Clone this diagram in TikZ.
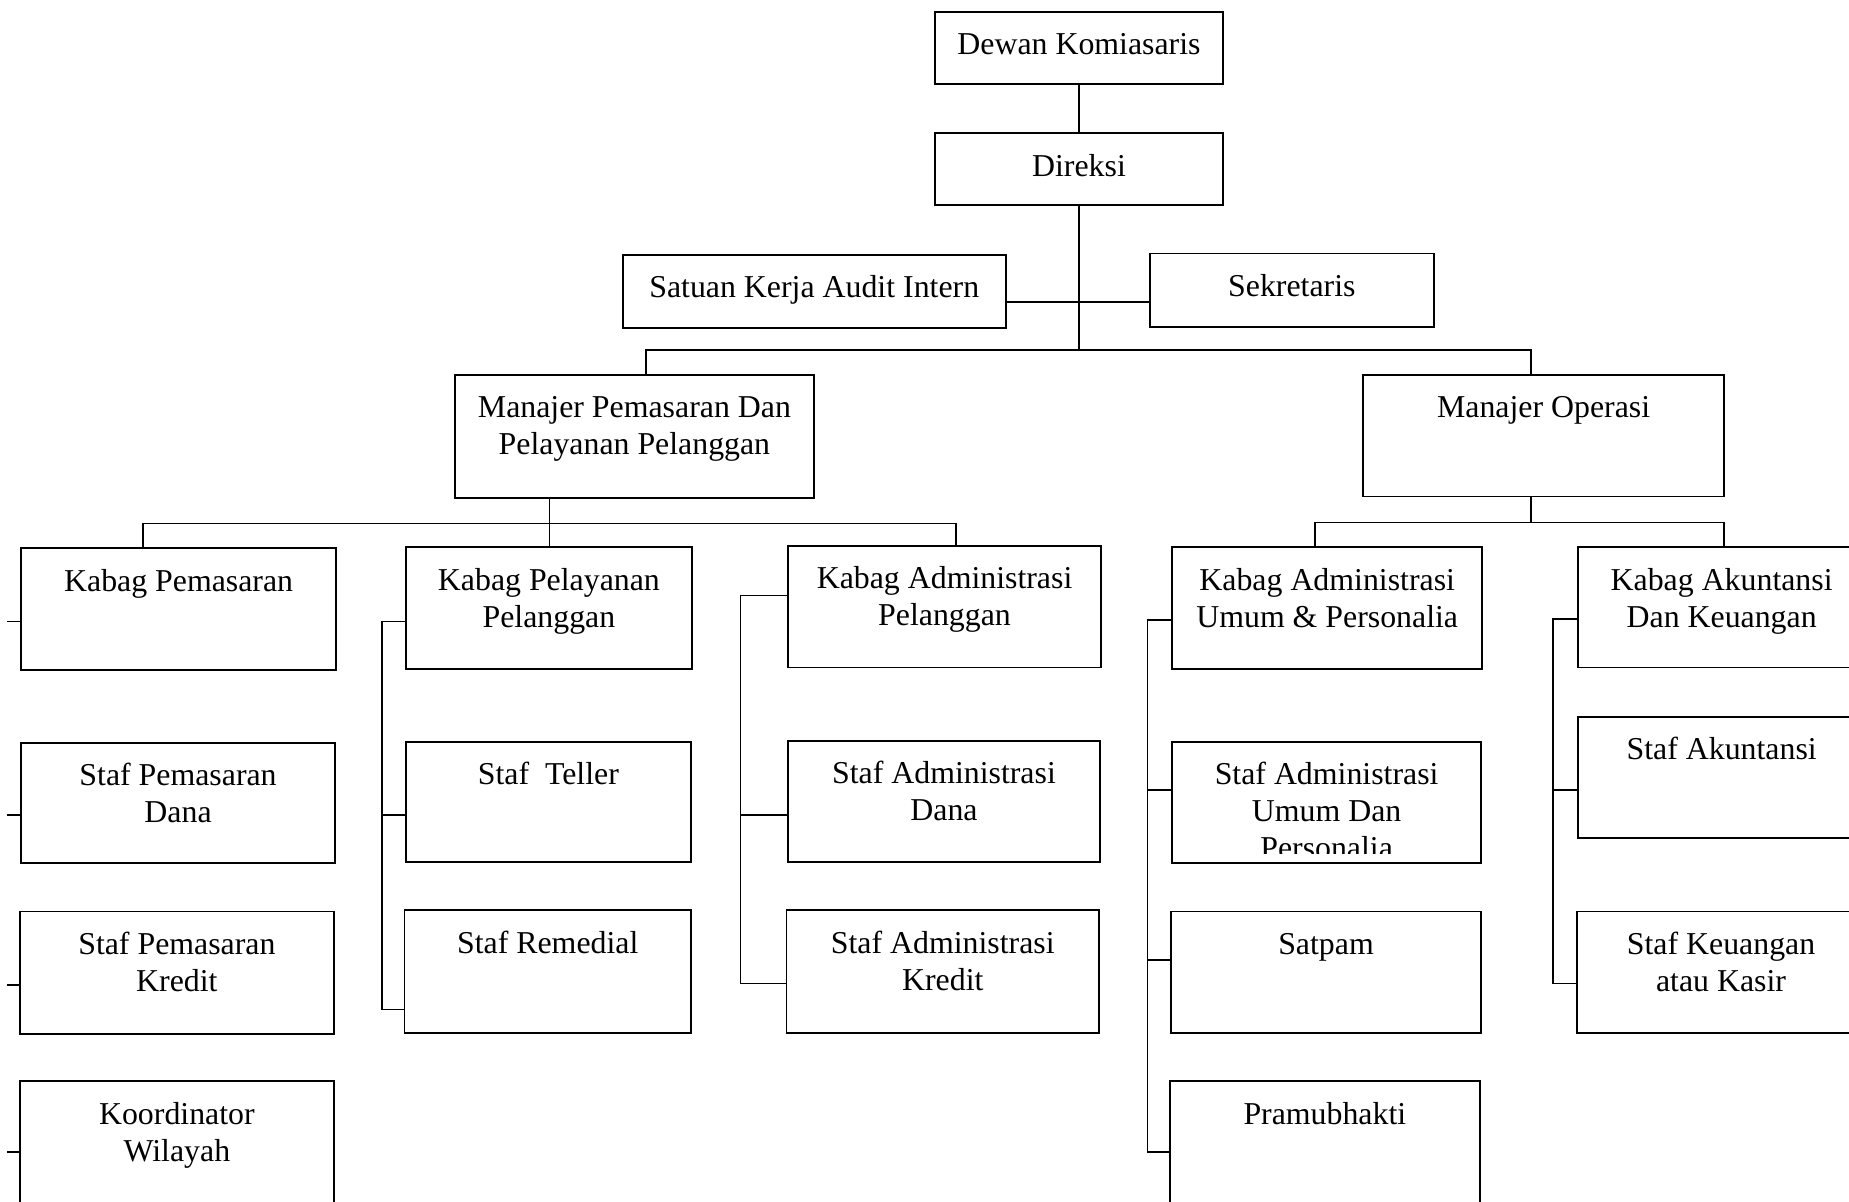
\documentclass[tikz,border=0pt]{standalone}
\usepackage{fontspec}
\setmainfont{Liberation Serif}
\usetikzlibrary{calc}
\tikzset{
  orgbox/.style={draw, line width=0.8pt, inner sep=0pt, outer sep=0pt, rectangle},
  orgtxt/.style={inner sep=0pt, align=center, anchor=north, font=\fontsize{13.5}{15.7}\selectfont},
  link/.style={line width=0.75pt},
}
\newcommand\OBox[6]{%
  \node[orgbox, anchor=north west, minimum width={(#4-#2)*0.5pt}, minimum height={(#5-#3)*0.5pt}] (#1) at (#2,#3) {};
  \node[orgtxt] (#1t) at ($(#1.north)+(0,14)$) {\strut #6};}
\begin{document}
\begin{tikzpicture}[x=0.5pt,y=-0.5pt]
\useasboundingbox (0,0) rectangle (1568,1019);
\fill[white] (0,0) rectangle (1568,1019);
\clip (0,0) rectangle (1568,1019);
% top
\OBox{dk}{793}{10}{1037}{71}{Dewan Komiasaris}
\OBox{dir}{793}{113}{1037}{174}{Direksi}
\OBox{ska}{528}{216}{853}{278}{Satuan Kerja Audit Intern}
\OBox{sek}{975}{215}{1216}{277}{Sekretaris}
\OBox{mp}{386}{318}{690}{422}{Manajer Pemasaran Dan\\Pelayanan Pelanggan}
\OBox{mo}{1156}{318}{1462}{421}{Manajer Operasi}
% kabag row
\OBox{kp}{18}{465}{285}{568}{Kabag Pemasaran}
\OBox{kpl}{344}{464}{587}{567}{Kabag Pelayanan\\Pelanggan}
\OBox{kap}{668}{463}{934}{566}{Kabag Administrasi\\Pelanggan}
\OBox{kau}{994}{464}{1257}{567}{Kabag Administrasi\\Umum \& Personalia}
\OBox{kak}{1338}{464}{1582}{566}{Kabag Akuntansi\\Dan Keuangan}
% column 1
\OBox{spd}{18}{630}{284}{732}{Staf Pemasaran\\Dana}
\OBox{spk}{17}{773}{283}{877}{Staf Pemasaran\\Kredit}
\OBox{kw}{17}{917}{283}{1040}{Koordinator\\Wilayah}
% column 2
\OBox{st}{344}{629}{586}{731}{Staf\ \ Teller}
\OBox{sr}{343}{772}{586}{876}{Staf Remedial}
% column 3
\OBox{sad}{668}{628}{933}{731}{Staf Administrasi\\Dana}
\OBox{sak}{667}{772}{932}{876}{Staf Administrasi\\Kredit}
% column 4
\node[orgbox, anchor=north west, minimum width={262*0.5pt}, minimum height={103*0.5pt}] (sau) at (994,629) {};
\begin{scope}
\clip (994,629) rectangle (1256,724);
\node[orgtxt] (saut) at ($(sau.north)+(0,14)$) {\strut Staf Administrasi\\Umum Dan\\Personalia};
\end{scope}
\OBox{sat}{993}{773}{1256}{876}{Satpam}
\OBox{pra}{992}{917}{1255}{1040}{Pramubhakti}
% column 5
\OBox{sakt}{1338}{608}{1582}{711}{Staf Akuntansi}
\OBox{sku}{1337}{773}{1582}{876}{Staf Keuangan\\atau Kasir}

% connectors: top
\coordinate (j1) at (915,256);
\coordinate (b1) at (915,297);
\coordinate (mpd) at (548,297);
\coordinate (mod) at (1298,297);
\draw[link] (dk.south) -- (dir.south |- dk.south) -- (dir.north);
\draw[link] (dir.south) -- (b1);
\draw[link] (j1 -| ska.east) -- (j1 -| sek.west);
\draw[link] (mpd |- mp.north) -- (mpd) -- (mod) -- (mod |- mo.north);
% manajer pemasaran children
\coordinate (b2) at (466,444);
\coordinate (b2l) at (121,444);
\coordinate (b2r) at (811,444);
\draw[link] (b2 |- mp.south) -- (b2) -- (b2 |- kpl.north);
\draw[link] (b2l |- kp.north) -- (b2l) -- (b2r) -- (b2r |- kap.north);
% manajer operasi children
\coordinate (b3) at (1298,443);
\coordinate (b3l) at (1115,443);
\coordinate (b3r) at (1462,443);
\draw[link] (b3 |- mo.south) -- (b3);
\draw[link] (b3l |- kau.north) -- (b3l) -- (b3r) -- (b3r |- kak.north);
% column 1 stubs
\coordinate (c1a) at (6,527);
\coordinate (c1b) at (6,691);
\coordinate (c1c) at (6,835);
\coordinate (c1d) at (6,977);
\draw[link] (c1a) -- (c1a -| kp.west);
\draw[link] (c1b) -- (c1b -| spd.west);
\draw[link] (c1c) -- (c1c -| spk.west);
\draw[link] (c1d) -- (c1d -| kw.west);
% column 2
\coordinate (c2t) at (324,527);
\coordinate (c2m) at (324,691);
\coordinate (c2b) at (324,856);
\draw[link] (c2t -| kpl.west) -- (c2t) -- (c2b) -- (c2b -| sr.west);
\draw[link] (c2m) -- (c2m -| st.west);
% column 3
\coordinate (c3t) at (628,505);
\coordinate (c3m) at (628,691);
\coordinate (c3b) at (628,834);
\draw[link] (c3t -| kap.west) -- (c3t) -- (c3b) -- (c3b -| sak.west);
\draw[link] (c3m) -- (c3m -| sad.west);
% column 4
\coordinate (c4t) at (973,526);
\coordinate (c4m) at (973,670);
\coordinate (c4n) at (973,814);
\coordinate (c4b) at (973,977);
\draw[link] (c4t -| kau.west) -- (c4t) -- (c4b) -- (c4b -| pra.west);
\draw[link] (c4m) -- (c4m -| sau.west);
\draw[link] (c4n) -- (c4n -| sat.west);
% column 5
\coordinate (c5t) at (1317,525);
\coordinate (c5m) at (1317,670);
\coordinate (c5b) at (1317,834);
\draw[link] (c5t -| kak.west) -- (c5t) -- (c5b) -- (c5b -| sku.west);
\draw[link] (c5m) -- (c5m -| sakt.west);
\end{tikzpicture}
\end{document}
